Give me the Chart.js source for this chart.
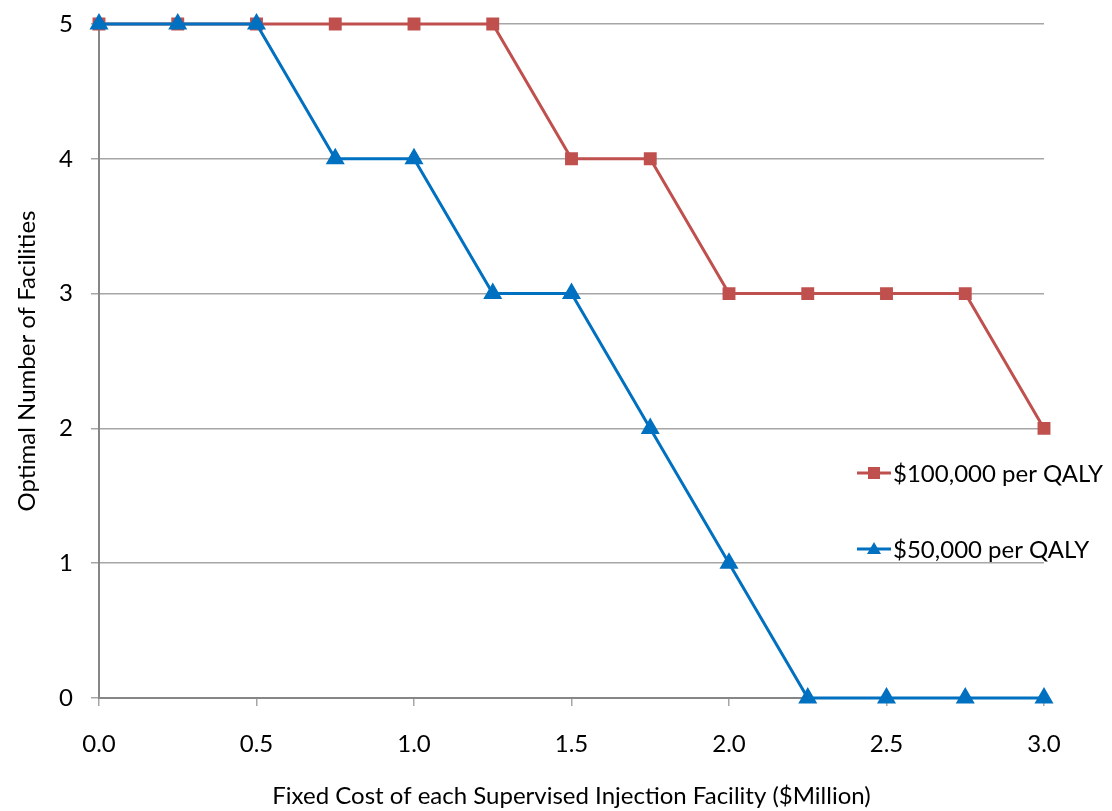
<!DOCTYPE html>
<html>
<head>
<meta charset="utf-8">
<script src="https://cdn.jsdelivr.net/npm/chart.js@4/dist/chart.umd.min.js"></script>
<style>
  html, body { margin: 0; padding: 0; background: #fff; }
  #wrap { width: 1112px; height: 811px; position: relative; }
</style>
</head>
<body>
<div id="wrap"><canvas id="chart"></canvas></div>
<script>
// fixed cost per facility ($Million)
const costs = [0, 0.25, 0.5, 0.75, 1.0, 1.25, 1.5, 1.75, 2.0, 2.25, 2.5, 2.75, 3.0];
// optimal number of facilities at each willingness-to-pay
const facilities100k = [5, 5, 5, 5, 5, 5, 4, 4, 3, 3, 3, 3, 2];
const facilities50k  = [5, 5, 5, 4, 4, 3, 3, 2, 1, 0, 0, 0, 0];
const seriesNames = ['$100,000 per QALY', '$50,000 per QALY'];

const FONT = 'Lato, "Open Sans", sans-serif';
const FONT_SIZE = 24;

function toPoints(ys) {
    return costs.map((c, i) => ({ x: c, y: ys[i] }));
}

// legend drawn inside the plot, right side
const insideLegend = {
    id: 'insideLegend',
    afterDraw(chart) {
        const ctx = chart.ctx;
        const rows = [
            { ds: chart.data.datasets[0], y: 473 },
            { ds: chart.data.datasets[1], y: 549 }
        ];
        ctx.save();
        rows.forEach(r => {
            const x0 = 857, x1 = 891, cx = (x0 + x1) / 2;
            ctx.strokeStyle = r.ds.borderColor;
            ctx.lineWidth = 3;
            ctx.beginPath();
            ctx.moveTo(x0, r.y);
            ctx.lineTo(x1, r.y);
            ctx.stroke();
            ctx.fillStyle = r.ds.backgroundColor;
            ctx.beginPath();
            if (r.ds.pointStyle === 'rect') {
                ctx.rect(cx - 6, r.y - 6, 12, 12);
            } else {
                ctx.moveTo(cx, r.y - 7);
                ctx.lineTo(cx + 7, r.y + 5);
                ctx.lineTo(cx - 7, r.y + 5);
                ctx.closePath();
            }
            ctx.fill();
            ctx.fillStyle = '#000';
            ctx.font = FONT_SIZE + 'px ' + FONT;
            ctx.textBaseline = 'middle';
            ctx.textAlign = 'left';
            ctx.fillText(r.ds.label, 893, r.y + 1);
        });
        ctx.restore();
    }
};

new Chart(document.getElementById('chart'), {
    type: 'line',
    data: {
        datasets: [{
            label: seriesNames[0],
            data: toPoints(facilities100k),
            borderColor: '#C0504D',
            backgroundColor: '#C0504D',
            borderWidth: 3,
            pointStyle: 'rect',
            pointRadius: 7,
            pointHoverRadius: 7,
            clip: false,
            order: 1
        }, {
            label: seriesNames[1],
            data: toPoints(facilities50k),
            borderColor: '#0070C0',
            backgroundColor: '#0070C0',
            borderWidth: 3,
            pointStyle: 'triangle',
            pointRadius: 8,
            pointHoverRadius: 8,
            clip: false,
            order: 0
        }]
    },
    options: {
        responsive: true,
        maintainAspectRatio: false,
        animation: false,
        layout: { padding: { left: 0, right: 68, top: 24, bottom: 0 } },
        plugins: {
            legend: { display: false },
            tooltip: { enabled: false }
        },
        elements: { line: { tension: 0 } },
        scales: {
            x: {
                type: 'linear',
                min: 0,
                max: 3,
                afterFit(scale) { scale.height = 113; },
                ticks: {
                    stepSize: 0.5,
                    padding: 24,
                    color: '#000',
                    font: { family: FONT, size: FONT_SIZE },
                    callback: v => v.toFixed(1)
                },
                grid: {
                    drawOnChartArea: false,
                    drawTicks: true,
                    tickLength: 8,
                    color: '#A6A6A6',
                    lineWidth: 1.5
                },
                border: { display: true, color: '#868686', width: 2 },
                title: {
                    display: true,
                    text: 'Fixed Cost of each Supervised Injection Facility ($Million)',
                    color: '#000',
                    font: { family: FONT, size: FONT_SIZE },
                    padding: { top: 13, bottom: 0 }
                }
            },
            y: {
                min: 0,
                max: 5,
                afterFit(scale) {
                    scale.width = 99;
                    scale.paddingTop = 0;
                    scale.paddingBottom = 0;
                },
                ticks: {
                    stepSize: 1,
                    padding: 18,
                    color: '#000',
                    font: { family: FONT, size: FONT_SIZE }
                },
                grid: {
                    color: '#A6A6A6',
                    lineWidth: 1.5,
                    tickLength: 8
                },
                border: { display: true, color: '#868686', width: 2 },
                title: {
                    display: true,
                    text: 'Optimal Number of Facilities',
                    color: '#000',
                    font: { family: FONT, size: FONT_SIZE },
                    padding: { top: 13, bottom: 10 }
                }
            }
        }
    },
    plugins: [insideLegend]
});
</script>
</body>
</html>
